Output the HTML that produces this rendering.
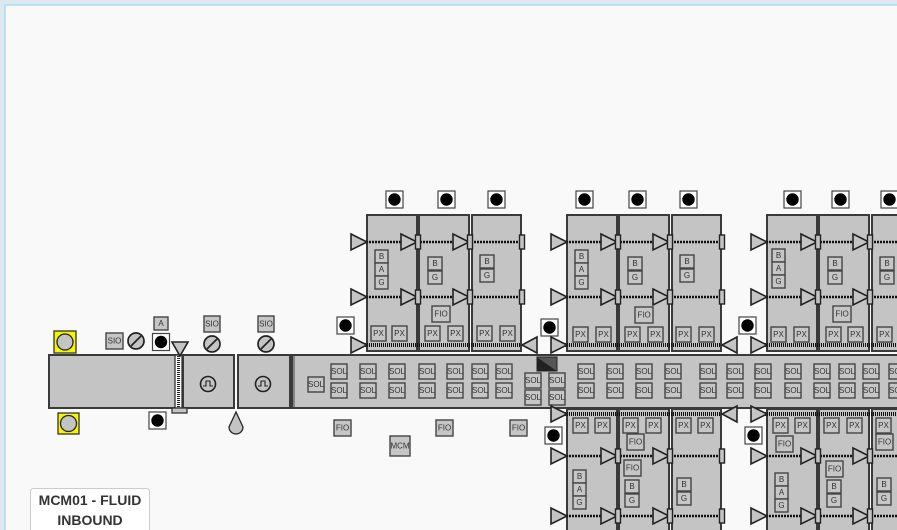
<!DOCTYPE html>
<html><head><meta charset="utf-8"><style>
html,body{margin:0;padding:0;background:#f9f9f9;}
svg{display:block;font-family:"Liberation Sans","DejaVu Sans",sans-serif;}
.m{fill:#c4c4c4;stroke:#3a3a3a;stroke-width:2}
.l rect{fill:#c6c6c6;stroke:#444;stroke-width:1.4}
.l text{font-size:8px;fill:#333;text-anchor:middle;dominant-baseline:central}
.tri{fill:#c4c4c4;stroke:#222;stroke-width:1.6}
.sr{fill:#c4c4c4;stroke:#222;stroke-width:1.4}
.dl{stroke:#111;stroke-width:2.5;stroke-dasharray:2 1}
.tl{stroke:#111;stroke-width:4;stroke-dasharray:1 1}
</style></head><body>
<svg width="897" height="530" viewBox="0 0 897 530" xmlns="http://www.w3.org/2000/svg">
<defs>
<g id="bc"><rect x="-8" y="-8" width="17" height="17" fill="#fff" stroke="#444" stroke-width="1.2"/><circle cx="0.5" cy="0.5" r="6.2" fill="#000"/></g>
<polygon id="tr" class="tri" points="-16,-8 0,0 -16,8"/>
<polygon id="tl" class="tri" points="15,-8 0,0 15,8"/>
<rect id="sm" class="sr" x="-2.5" y="-7" width="5" height="14"/>
</defs>
<rect x="0" y="0" width="897" height="5" fill="#dde9f2"/>
<rect x="0" y="0" width="5" height="530" fill="#dde9f2"/>
<line x1="5" y1="5" x2="897" y2="5" stroke="#8fd0ef" stroke-width="1"/>
<line x1="5" y1="5" x2="5" y2="530" stroke="#8fd0ef" stroke-width="1"/>

<rect x="54" y="331" width="22" height="22" fill="#f5f500" stroke="#333" stroke-width="1.3"/><circle cx="65" cy="342" r="8" fill="#c4c4c4" stroke="#222" stroke-width="1.3"/>
<rect x="58" y="413" width="21" height="21" fill="#f5f500" stroke="#333" stroke-width="1.3"/><circle cx="68.5" cy="423.5" r="8" fill="#c4c4c4" stroke="#222" stroke-width="1.3"/>
<rect class="m" x="49" y="355" width="129" height="53"/>
<rect class="m" x="183" y="355" width="51" height="53"/>
<rect class="m" x="238" y="355" width="52" height="53"/>
<rect x="175" y="355" width="7" height="53" fill="#fff" stroke="#333" stroke-width="1.3"/>
<line x1="178.5" y1="356" x2="178.5" y2="407" stroke="#222" stroke-width="3" stroke-dasharray="1 1"/>
<rect x="172" y="408" width="15" height="5" fill="#c4c4c4" stroke="#333" stroke-width="1.3"/>
<polygon class="tri" points="172,342 188,342 180,356"/>
<g class="l"><rect x="106" y="333" width="17" height="16"/><text x="114.5" y="341">SIO</text></g>
<circle cx="136" cy="341" r="8" fill="#c4c4c4" stroke="#222" stroke-width="1.7"/><line x1="131" y1="346" x2="141" y2="336" stroke="#222" stroke-width="1.7"/>
<use href="#bc" x="160.5" y="341.5"/>
<g class="l"><rect x="154" y="317" width="14" height="13"/><text x="161" y="323.5">A</text></g>
<use href="#bc" x="157" y="420"/>
<circle cx="208" cy="384" r="7.5" fill="#c4c4c4" stroke="#222" stroke-width="1.6"/><polyline points="203,386 206,386 206,381 210,381 210,386 213,386" fill="none" stroke="#222" stroke-width="1.1"/>
<circle cx="263" cy="384" r="7.5" fill="#c4c4c4" stroke="#222" stroke-width="1.6"/><polyline points="258,386 261,386 261,381 265,381 265,386 268,386" fill="none" stroke="#222" stroke-width="1.1"/>
<g class="l"><rect x="204" y="316" width="16" height="16"/><text x="212" y="324">SIO</text></g>
<circle cx="212" cy="344" r="8" fill="#c4c4c4" stroke="#222" stroke-width="1.7"/><line x1="207" y1="349" x2="217" y2="339" stroke="#222" stroke-width="1.7"/>
<g class="l"><rect x="258" y="316" width="16" height="16"/><text x="266" y="324">SIO</text></g>
<circle cx="266" cy="344" r="8" fill="#c4c4c4" stroke="#222" stroke-width="1.7"/><line x1="261" y1="349" x2="271" y2="339" stroke="#222" stroke-width="1.7"/>
<path d="M236,412 L243,427 A7,7 0 1 1 229,427 Z" fill="#c4c4c4" stroke="#222" stroke-width="1.3"/>

<rect class="m" x="292" y="355" width="610" height="53"/>
<line x1="294" y1="356" x2="294" y2="407" stroke="#444" stroke-width="1"/>
<polygon points="537,357 557,357 557,371" fill="#555"/><polygon points="537,357 557,371 537,371" fill="#222"/><rect x="537" y="357" width="20" height="14" fill="none" stroke="#222"/>
<g class="l">
<rect x="308" y="377" width="16" height="15"/><text x="316" y="384.5">SOL</text>
<rect x="331" y="364" width="16" height="15"/><text x="339" y="371.5">SOL</text><rect x="331" y="383" width="16" height="15"/><text x="339" y="390.5">SOL</text>
<rect x="360" y="364" width="16" height="15"/><text x="368" y="371.5">SOL</text><rect x="360" y="383" width="16" height="15"/><text x="368" y="390.5">SOL</text>
<rect x="389" y="364" width="16" height="15"/><text x="397" y="371.5">SOL</text><rect x="389" y="383" width="16" height="15"/><text x="397" y="390.5">SOL</text>
<rect x="419" y="364" width="16" height="15"/><text x="427" y="371.5">SOL</text><rect x="419" y="383" width="16" height="15"/><text x="427" y="390.5">SOL</text>
<rect x="447" y="364" width="16" height="15"/><text x="455" y="371.5">SOL</text><rect x="447" y="383" width="16" height="15"/><text x="455" y="390.5">SOL</text>
<rect x="472" y="364" width="16" height="15"/><text x="480" y="371.5">SOL</text><rect x="472" y="383" width="16" height="15"/><text x="480" y="390.5">SOL</text>
<rect x="496" y="364" width="16" height="15"/><text x="504" y="371.5">SOL</text><rect x="496" y="383" width="16" height="15"/><text x="504" y="390.5">SOL</text>
<rect x="525" y="373" width="16" height="15"/><text x="533" y="380.5">SOL</text><rect x="525" y="390" width="16" height="15"/><text x="533" y="397.5">SOL</text>
<rect x="549" y="373" width="16" height="15"/><text x="557" y="380.5">SOL</text><rect x="549" y="390" width="16" height="15"/><text x="557" y="397.5">SOL</text>
<rect x="578" y="364" width="16" height="15"/><text x="586" y="371.5">SOL</text><rect x="578" y="383" width="16" height="15"/><text x="586" y="390.5">SOL</text>
<rect x="607" y="364" width="16" height="15"/><text x="615" y="371.5">SOL</text><rect x="607" y="383" width="16" height="15"/><text x="615" y="390.5">SOL</text>
<rect x="636" y="364" width="16" height="15"/><text x="644" y="371.5">SOL</text><rect x="636" y="383" width="16" height="15"/><text x="644" y="390.5">SOL</text>
<rect x="665" y="364" width="16" height="15"/><text x="673" y="371.5">SOL</text><rect x="665" y="383" width="16" height="15"/><text x="673" y="390.5">SOL</text>
<rect x="700" y="364" width="16" height="15"/><text x="708" y="371.5">SOL</text><rect x="700" y="383" width="16" height="15"/><text x="708" y="390.5">SOL</text>
<rect x="727" y="364" width="16" height="15"/><text x="735" y="371.5">SOL</text><rect x="727" y="383" width="16" height="15"/><text x="735" y="390.5">SOL</text>
<rect x="755" y="364" width="16" height="15"/><text x="763" y="371.5">SOL</text><rect x="755" y="383" width="16" height="15"/><text x="763" y="390.5">SOL</text>
<rect x="785" y="364" width="16" height="15"/><text x="793" y="371.5">SOL</text><rect x="785" y="383" width="16" height="15"/><text x="793" y="390.5">SOL</text>
<rect x="814" y="364" width="16" height="15"/><text x="822" y="371.5">SOL</text><rect x="814" y="383" width="16" height="15"/><text x="822" y="390.5">SOL</text>
<rect x="839" y="364" width="16" height="15"/><text x="847" y="371.5">SOL</text><rect x="839" y="383" width="16" height="15"/><text x="847" y="390.5">SOL</text>
<rect x="863" y="364" width="16" height="15"/><text x="871" y="371.5">SOL</text><rect x="863" y="383" width="16" height="15"/><text x="871" y="390.5">SOL</text>
<rect x="889" y="364" width="16" height="15"/><text x="897" y="371.5">SOL</text><rect x="889" y="383" width="16" height="15"/><text x="897" y="390.5">SOL</text>
<rect x="334" y="420" width="17" height="16"/><text x="342.5" y="428">FIO</text>
<rect x="436" y="420" width="17" height="16"/><text x="444.5" y="428">FIO</text>
<rect x="510" y="420" width="17" height="16"/><text x="518.5" y="428">FIO</text>
<rect x="390" y="436" width="20" height="20"/><text x="400" y="446">MCM</text>
</g>
<use href="#bc" x="345" y="325"/>
<use href="#bc" x="549" y="327"/>
<use href="#bc" x="747" y="325"/>
<use href="#bc" x="553" y="435"/>
<use href="#bc" x="753" y="435"/>

<g transform="translate(367,0)">
<rect class="m" x="0" y="215" width="50" height="136"/><rect class="m" x="52" y="215" width="50" height="136"/><rect class="m" x="105" y="215" width="49" height="136"/>
<line class="dl" x1="-4" y1="242" x2="154" y2="242"/><line class="dl" x1="-4" y1="297" x2="154" y2="297"/><line class="tl" x1="-4" y1="345" x2="154" y2="345"/>
<use href="#tr" x="0" y="242"/><use href="#tr" x="0" y="297"/><use href="#tr" x="0" y="345"/>
<use href="#tr" x="50" y="242"/><use href="#tr" x="102" y="242"/><use href="#tr" x="50" y="297"/><use href="#tr" x="102" y="297"/>
<use href="#sm" x="51" y="242"/><use href="#sm" x="103" y="242"/><use href="#sm" x="155" y="242"/><use href="#sm" x="51" y="297"/><use href="#sm" x="103" y="297"/><use href="#sm" x="155" y="297"/>
<use href="#tl" x="155" y="345"/>
<use href="#bc" x="27" y="199"/><use href="#bc" x="79" y="199"/><use href="#bc" x="129" y="199"/>
<g class="l">
<rect x="8" y="250" width="13" height="13"/><text x="14.5" y="256.5">B</text><rect x="8" y="263" width="13" height="13"/><text x="14.5" y="269.5">A</text><rect x="8" y="276" width="13" height="13"/><text x="14.5" y="282.5">G</text>
<rect x="61" y="257" width="14" height="13"/><text x="68" y="263.5">B</text><rect x="61" y="271" width="14" height="13"/><text x="68" y="277.5">G</text>
<rect x="113" y="255" width="14" height="13"/><text x="120" y="261.5">B</text><rect x="113" y="269" width="14" height="13"/><text x="120" y="275.5">G</text>
<rect x="65" y="306" width="18" height="16"/><text x="74" y="314">FIO</text>
<rect x="4" y="326" width="15" height="15"/><text x="11.5" y="333.5">PX</text><rect x="25" y="326" width="15" height="15"/><text x="32.5" y="333.5">PX</text>
<rect x="58" y="326" width="15" height="15"/><text x="65.5" y="333.5">PX</text><rect x="81" y="326" width="15" height="15"/><text x="88.5" y="333.5">PX</text>
<rect x="110" y="326" width="15" height="15"/><text x="117.5" y="333.5">PX</text><rect x="133" y="326" width="15" height="15"/><text x="140.5" y="333.5">PX</text>
</g></g>

<g transform="translate(567,0)">
<rect class="m" x="0" y="215" width="50" height="136"/><rect class="m" x="52" y="215" width="50" height="136"/><rect class="m" x="105" y="215" width="49" height="136"/>
<line class="dl" x1="-4" y1="242" x2="154" y2="242"/><line class="dl" x1="-4" y1="297" x2="154" y2="297"/><line class="tl" x1="-4" y1="345" x2="154" y2="345"/>
<use href="#tr" x="0" y="242"/><use href="#tr" x="0" y="297"/><use href="#tr" x="0" y="345"/>
<use href="#tr" x="50" y="242"/><use href="#tr" x="102" y="242"/><use href="#tr" x="50" y="297"/><use href="#tr" x="102" y="297"/>
<use href="#sm" x="51" y="242"/><use href="#sm" x="103" y="242"/><use href="#sm" x="155" y="242"/><use href="#sm" x="51" y="297"/><use href="#sm" x="103" y="297"/><use href="#sm" x="155" y="297"/>
<use href="#tl" x="155" y="345"/>
<use href="#bc" x="17" y="199"/><use href="#bc" x="70" y="199"/><use href="#bc" x="121" y="199"/>
<g class="l">
<rect x="8" y="250" width="13" height="13"/><text x="14.5" y="256.5">B</text><rect x="8" y="263" width="13" height="13"/><text x="14.5" y="269.5">A</text><rect x="8" y="276" width="13" height="13"/><text x="14.5" y="282.5">G</text>
<rect x="61" y="257" width="14" height="13"/><text x="68" y="263.5">B</text><rect x="61" y="271" width="14" height="13"/><text x="68" y="277.5">G</text>
<rect x="113" y="255" width="14" height="13"/><text x="120" y="261.5">B</text><rect x="113" y="269" width="14" height="13"/><text x="120" y="275.5">G</text>
<rect x="68" y="307" width="18" height="16"/><text x="77" y="315">FIO</text>
<rect x="6" y="327" width="15" height="15"/><text x="13.5" y="334.5">PX</text><rect x="29" y="327" width="15" height="15"/><text x="36.5" y="334.5">PX</text>
<rect x="58" y="327" width="15" height="15"/><text x="65.5" y="334.5">PX</text><rect x="81" y="327" width="15" height="15"/><text x="88.5" y="334.5">PX</text>
<rect x="109" y="327" width="15" height="15"/><text x="116.5" y="334.5">PX</text><rect x="132" y="327" width="15" height="15"/><text x="139.5" y="334.5">PX</text>
</g></g>

<g transform="translate(767,0)">
<rect class="m" x="0" y="215" width="50" height="136"/><rect class="m" x="52" y="215" width="50" height="136"/><rect class="m" x="105" y="215" width="49" height="136"/>
<line class="dl" x1="-4" y1="242" x2="154" y2="242"/><line class="dl" x1="-4" y1="297" x2="154" y2="297"/><line class="tl" x1="-4" y1="345" x2="154" y2="345"/>
<use href="#tr" x="0" y="242"/><use href="#tr" x="0" y="297"/><use href="#tr" x="0" y="345"/>
<use href="#tr" x="50" y="242"/><use href="#tr" x="102" y="242"/><use href="#tr" x="50" y="297"/><use href="#tr" x="102" y="297"/>
<use href="#sm" x="51" y="242"/><use href="#sm" x="103" y="242"/><use href="#sm" x="51" y="297"/><use href="#sm" x="103" y="297"/>
<use href="#bc" x="25" y="199"/><use href="#bc" x="73" y="199"/><use href="#bc" x="122" y="199"/>
<g class="l">
<rect x="5" y="249" width="13" height="13"/><text x="11.5" y="255.5">B</text><rect x="5" y="262" width="13" height="13"/><text x="11.5" y="268.5">A</text><rect x="5" y="275" width="13" height="13"/><text x="11.5" y="281.5">G</text>
<rect x="61" y="257" width="14" height="13"/><text x="68" y="263.5">B</text><rect x="61" y="271" width="14" height="13"/><text x="68" y="277.5">G</text>
<rect x="113" y="257" width="14" height="13"/><text x="120" y="263.5">B</text><rect x="113" y="271" width="14" height="13"/><text x="120" y="277.5">G</text>
<rect x="66" y="306" width="18" height="16"/><text x="75" y="314">FIO</text>
<rect x="4" y="327" width="15" height="15"/><text x="11.5" y="334.5">PX</text><rect x="27" y="327" width="15" height="15"/><text x="34.5" y="334.5">PX</text>
<rect x="59" y="327" width="15" height="15"/><text x="66.5" y="334.5">PX</text><rect x="81" y="327" width="15" height="15"/><text x="88.5" y="334.5">PX</text>
<rect x="110" y="327" width="15" height="15"/><text x="117.5" y="334.5">PX</text>
</g></g>

<g transform="translate(567,0)">
<rect class="m" x="0" y="409" width="50" height="130"/><rect class="m" x="52" y="409" width="50" height="130"/><rect class="m" x="105" y="409" width="49" height="130"/>
<line class="tl" x1="-4" y1="414" x2="154" y2="414"/><line class="dl" x1="-4" y1="456" x2="154" y2="456"/><line class="dl" x1="-4" y1="516" x2="154" y2="516"/>
<use href="#tr" x="0" y="414"/><use href="#tr" x="0" y="456"/><use href="#tr" x="0" y="516"/>
<use href="#tr" x="50" y="456"/><use href="#tr" x="102" y="456"/><use href="#tr" x="50" y="516"/><use href="#tr" x="102" y="516"/>
<use href="#sm" x="51" y="456"/><use href="#sm" x="103" y="456"/><use href="#sm" x="155" y="456"/><use href="#sm" x="51" y="516"/><use href="#sm" x="103" y="516"/><use href="#sm" x="155" y="516"/>
<use href="#tl" x="155" y="414"/>
<g class="l">
<rect x="6" y="418" width="15" height="15"/><text x="13.5" y="425.5">PX</text><rect x="28" y="418" width="15" height="15"/><text x="35.5" y="425.5">PX</text>
<rect x="56" y="418" width="15" height="15"/><text x="63.5" y="425.5">PX</text><rect x="79" y="418" width="15" height="15"/><text x="86.5" y="425.5">PX</text>
<rect x="109" y="418" width="15" height="15"/><text x="116.5" y="425.5">PX</text><rect x="131" y="418" width="15" height="15"/><text x="138.5" y="425.5">PX</text>
<rect x="60" y="434" width="17" height="16"/><text x="68.5" y="442">FIO</text>
<rect x="57" y="460" width="17" height="16"/><text x="65.5" y="468">FIO</text>
<rect x="58" y="480" width="14" height="13"/><text x="65" y="486.5">B</text><rect x="58" y="494" width="14" height="13"/><text x="65" y="500.5">G</text>
<rect x="6" y="470" width="13" height="13"/><text x="12.5" y="476.5">B</text><rect x="6" y="483" width="13" height="13"/><text x="12.5" y="489.5">A</text><rect x="6" y="496" width="13" height="13"/><text x="12.5" y="502.5">G</text>
<rect x="110" y="478" width="14" height="13"/><text x="117" y="484.5">B</text><rect x="110" y="492" width="14" height="13"/><text x="117" y="498.5">G</text>
</g></g>

<g transform="translate(767,0)">
<rect class="m" x="0" y="409" width="50" height="130"/><rect class="m" x="52" y="409" width="50" height="130"/><rect class="m" x="105" y="409" width="49" height="130"/>
<line class="tl" x1="-4" y1="414" x2="154" y2="414"/><line class="dl" x1="-4" y1="456" x2="154" y2="456"/><line class="dl" x1="-4" y1="516" x2="154" y2="516"/>
<use href="#tr" x="0" y="414"/><use href="#tr" x="0" y="456"/><use href="#tr" x="0" y="516"/>
<use href="#tr" x="50" y="456"/><use href="#tr" x="102" y="456"/><use href="#tr" x="50" y="516"/><use href="#tr" x="102" y="516"/>
<use href="#sm" x="51" y="456"/><use href="#sm" x="103" y="456"/><use href="#sm" x="51" y="516"/><use href="#sm" x="103" y="516"/>
<g class="l">
<rect x="6" y="418" width="15" height="15"/><text x="13.5" y="425.5">PX</text><rect x="28" y="418" width="15" height="15"/><text x="35.5" y="425.5">PX</text>
<rect x="57" y="418" width="15" height="15"/><text x="64.5" y="425.5">PX</text><rect x="80" y="418" width="15" height="15"/><text x="87.5" y="425.5">PX</text>
<rect x="109" y="418" width="15" height="15"/><text x="116.5" y="425.5">PX</text>
<rect x="9" y="436" width="17" height="16"/><text x="17.5" y="444">FIO</text>
<rect x="59" y="461" width="17" height="16"/><text x="67.5" y="469">FIO</text>
<rect x="60" y="480" width="14" height="13"/><text x="67" y="486.5">B</text><rect x="60" y="494" width="14" height="13"/><text x="67" y="500.5">G</text>
<rect x="8" y="473" width="13" height="13"/><text x="14.5" y="479.5">B</text><rect x="8" y="486" width="13" height="13"/><text x="14.5" y="492.5">A</text><rect x="8" y="499" width="13" height="13"/><text x="14.5" y="505.5">G</text>
<rect x="110" y="478" width="14" height="13"/><text x="117" y="484.5">B</text><rect x="110" y="492" width="14" height="13"/><text x="117" y="498.5">G</text>
<rect x="109" y="434" width="17" height="16"/><text x="117.5" y="442">FIO</text>
</g></g>

<rect x="30.5" y="488.5" width="119" height="50" rx="3" fill="#fff" stroke="#ccc"/>
<text x="90" y="505" font-size="14" font-weight="bold" fill="#333" text-anchor="middle">MCM01 - FLUID</text>
<text x="90" y="525" font-size="14" font-weight="bold" fill="#333" text-anchor="middle">INBOUND</text>
</svg>
</body></html>
